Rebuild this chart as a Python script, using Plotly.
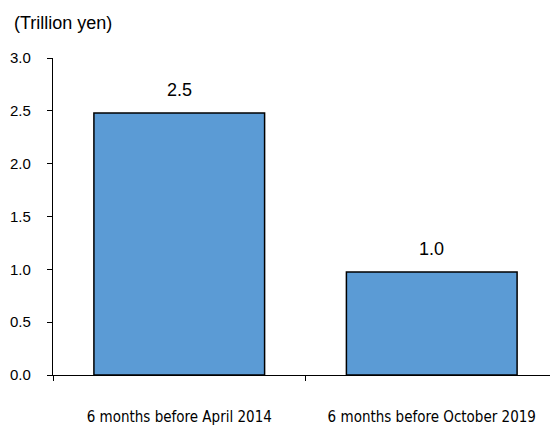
import plotly.graph_objects as go

categories = ["6 months before April 2014", "6 months before October 2019"]
values = [2.48, 0.975]
y_ticks = [0, 0.5, 1.0, 1.5, 2.0, 2.5, 3.0]
y_tick_labels = ["0.0", "0.5", "1.0", "1.5", "2.0", "2.5", "3.0"]
unit_label = "(Trillion yen)"

# page body has an 8px default margin; compensate so plot area lands at (53..558, 58..375)
W, H = 550, 417
L, R, T, B = 45, 0, 50, 50
PW, PH = W - L - R, H - T - B

fig = go.Figure()
fig.add_trace(go.Bar(
    x=categories, y=values,
    marker=dict(color="#5B9BD5", line=dict(color="black", width=1.5)),
    width=0.676,
))

for c, v in zip(categories, values):
    fig.add_annotation(x=c, y=v, text=f"{v:.1f}", showarrow=False,
                       yanchor="bottom", yshift=11,
                       font=dict(family="Liberation Sans, Arial", size=18, color="black"))

fig.add_annotation(xref="paper", yref="paper", x=-41 / PW, y=1 + 35 / PH,
                   xanchor="left", yanchor="middle", text=unit_label, showarrow=False,
                   font=dict(family="Liberation Sans, Arial", size=18, color="black"))

fig.update_layout(
    width=W, height=H,
    margin=dict(l=L, r=R, t=T, b=B, autoexpand=False),
    paper_bgcolor="white", plot_bgcolor="white",
    showlegend=False,
    font=dict(family="Liberation Sans, Arial", size=15, color="black"),
)
fig.update_xaxes(
    showline=True, linecolor="black", linewidth=1.3,
    ticks="outside", tickson="boundaries", ticklen=5, tickcolor="black",
    tickfont=dict(family="DejaVu Sans Condensed, Liberation Sans", size=15),
    ticklabelstandoff=28,
    showgrid=False,
)
fig.update_yaxes(
    range=[0, 3], tickvals=y_ticks, ticktext=y_tick_labels,
    showline=True, linecolor="black", linewidth=1.3,
    ticks="outside", ticklen=5, tickcolor="black",
    showgrid=False, zeroline=False,
    ticklabelstandoff=13,
)

fig.write_html("out.html")
